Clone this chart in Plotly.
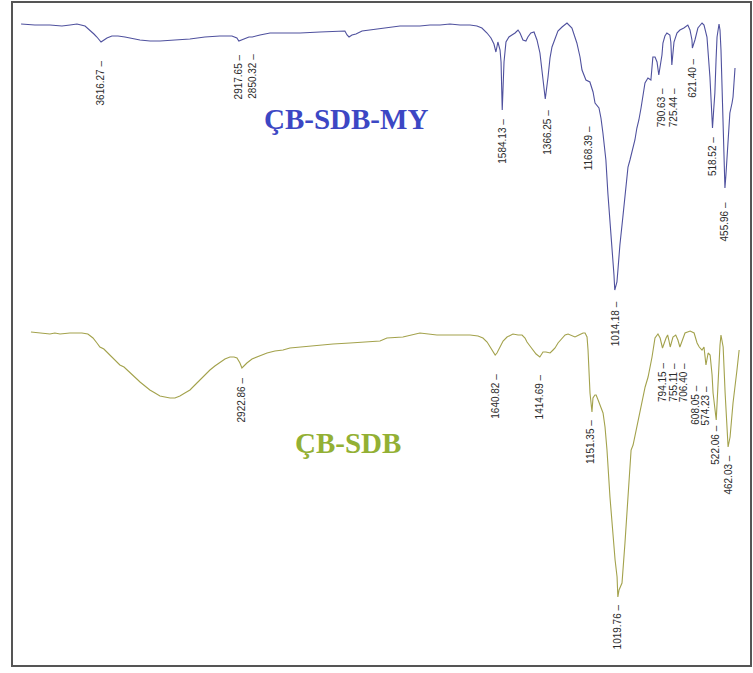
import plotly.graph_objects as go

# ---------------- data (wavenumber cm-1, transmittance in arbitrary units) ----------------
my_wn = [4021, 3951, 3875, 3814, 3773, 3738, 3697, 3672, 3652, 3637, 3616, 3601, 3586, 3561, 3530,
         3495, 3469, 3419, 3368, 3317, 3242, 3166, 3090, 3014, 2953, 2928, 2918, 2887, 2867, 2850,
         2836, 2811, 2760, 2684, 2608, 2507, 2431, 2381, 2370, 2360, 2345, 2325, 2294, 2254, 2203,
         2153, 2102, 2051, 2001, 1950, 1899, 1849, 1798, 1747, 1712, 1687, 1661, 1641, 1626, 1616,
         1606, 1595, 1590, 1584, 1575, 1565, 1550, 1535, 1519, 1504, 1494, 1479, 1464, 1454, 1439,
         1423, 1408, 1393, 1378, 1366, 1352, 1342, 1332, 1317, 1302, 1281, 1256, 1231, 1206, 1190,
         1180, 1160, 1140, 1124, 1114, 1094, 1084, 1074, 1059, 1049, 1038, 1028, 1018, 1014, 1003,
         998, 988, 973, 957, 947, 937, 927, 912, 902, 892, 881, 871, 861, 846, 831,
         821, 810, 800, 791, 775, 770, 760, 750, 735, 730, 725, 714, 699, 684, 664,
         644, 633, 623, 621, 608, 593, 572, 562, 547, 532, 524, 519, 513, 507, 501,
         496, 486, 481, 476, 466, 461, 456, 451, 446, 431, 420, 415, 405]
my_t = [642, 641, 641, 640, 641, 642, 640, 636, 632, 629, 624, 626, 628, 630, 630,
        629, 628, 626, 625, 625, 626, 627, 629, 630, 630, 628, 625, 627, 629, 629,
        630, 631, 633, 633, 633, 634, 635, 635, 631, 629, 631, 632, 635, 636, 637,
        639, 640, 640, 640, 641, 641, 642, 641, 641, 640, 638, 633, 628, 622, 614,
        624, 616, 604, 556, 604, 624, 629, 631, 633, 636, 633, 626, 625, 629, 633,
        634, 626, 613, 589, 567, 589, 608, 619, 628, 635, 639, 643, 638, 623, 609,
        596, 586, 584, 574, 563, 558, 548, 533, 506, 473, 446, 423, 391, 376, 384,
        396, 421, 449, 476, 499, 506, 513, 526, 538, 546, 558, 569, 583, 588, 586,
        609, 609, 604, 591, 611, 623, 630, 633, 631, 624, 601, 624, 633, 636, 638,
        641, 636, 626, 618, 626, 638, 643, 641, 629, 589, 556, 538, 556, 573, 606,
        629, 642, 636, 616, 556, 516, 478, 491, 509, 553, 563, 569, 598]

sdb_wn = [3991, 3946, 3895, 3870, 3844, 3794, 3733, 3703, 3677, 3657, 3642, 3622, 3606, 3591, 3576,
          3556, 3541, 3520, 3505, 3490, 3475, 3455, 3439, 3414, 3389, 3363, 3338, 3313, 3287, 3262,
          3237, 3212, 3186, 3161, 3136, 3110, 3085, 3060, 3034, 3009, 2984, 2963, 2948, 2933, 2923,
          2913, 2898, 2872, 2847, 2822, 2796, 2756, 2715, 2680, 2629, 2553, 2462, 2376, 2290, 2224,
          2189, 2108, 2022, 1936, 1855, 1768, 1728, 1703, 1682, 1667, 1652, 1641, 1632, 1617, 1601,
          1581, 1551, 1525, 1505, 1490, 1480, 1465, 1450, 1434, 1415, 1409, 1399, 1384, 1363, 1348,
          1338, 1323, 1303, 1287, 1272, 1257, 1237, 1217, 1196, 1186, 1176, 1171, 1166, 1161, 1151,
          1146, 1136, 1130, 1120, 1110, 1095, 1085, 1075, 1060, 1044, 1034, 1024, 1020, 1014, 1009,
          999, 984, 968, 958, 953, 943, 933, 918, 898, 882, 867, 857, 847, 832, 817,
          806, 794, 776, 768, 762, 755, 741, 727, 716, 706, 680, 654, 634, 619, 608,
          594, 584, 574, 563, 553, 543, 538, 522, 513, 503, 498, 487, 477, 462, 452,
          437, 417, 406]
sdb_t = [334, 333, 332, 333, 332, 333, 333, 332, 328, 323, 319, 317, 314, 311, 308,
         304, 301, 299, 296, 293, 291, 287, 284, 280, 276, 273, 270, 269, 268, 268,
         270, 273, 276, 281, 286, 291, 296, 300, 304, 307, 309, 309, 308, 303, 298,
         300, 303, 307, 309, 311, 313, 315, 316, 318, 319, 320, 322, 323, 324, 325,
         328, 329, 333, 331, 331, 331, 330, 328, 324, 319, 314, 311, 313, 319, 325,
         329, 332, 331, 331, 328, 324, 320, 316, 312, 309, 311, 314, 314, 313, 316,
         318, 323, 328, 331, 332, 331, 329, 331, 333, 333, 329, 316, 299, 273, 254,
         268, 271, 271, 266, 261, 253, 239, 216, 169, 129, 106, 89, 69, 76, 79,
         83, 123, 173, 201, 216, 221, 231, 243, 263, 279, 289, 299, 309, 328, 332,
         328, 318, 328, 331, 326, 319, 329, 331, 326, 319, 333, 335, 333, 323, 319,
         316, 319, 301, 313, 311, 291, 273, 246, 289, 321, 331, 319, 273, 219, 229,
         263, 296, 316]

my_peaks = [3616.27, 2917.65, 2850.32, 1584.13, 1366.25, 1168.39, 1014.18,
            790.63, 725.44, 621.40, 518.52, 455.96]
sdb_peaks = [2922.86, 1640.82, 1414.69, 1151.35, 1019.76, 794.15, 755.11,
             706.40, 608.05, 574.23, 522.06, 462.03]

series_names = ["ÇB-SDB-MY", "ÇB-SDB"]

# ---------------- label placement (styling) ----------------
my_label_top = [608, 614, 614, 549, 558, 542, 367, 580, 580, 609, 531, 466]
my_label_shift = [0, 0, 0, 0, 2, 4, 1, 3, 2, 0, 0, 0]
sdb_label_top = [291, 294, 294, 248, 64, 305, 305, 305, 282, 282, 242, 212]
sdb_label_shift = [0, 0, 0, -2, 0, 0, 3, 4, -4, 0, -1, 0]

MY_LINE = "#4f519e"
SDB_LINE = "#a3a24c"
MY_TEXT = "#3c47c4"
SDB_TEXT = "#93b034"

fig = go.Figure()
fig.add_trace(go.Scatter(x=my_wn, y=my_t, mode="lines", name=series_names[0],
                         line=dict(color=MY_LINE, width=1.1), xaxis="x", yaxis="y",
                         showlegend=False))
fig.add_trace(go.Scatter(x=sdb_wn, y=sdb_t, mode="lines", name=series_names[1],
                         line=dict(color=SDB_LINE, width=1.1), xaxis="x2", yaxis="y",
                         showlegend=False))

annotations = []
for wn, top, sh in zip(my_peaks, my_label_top, my_label_shift):
    annotations.append(dict(x=wn, y=top, xref="x", yref="y", text=f"{wn:.2f}\u00a0\u2013",
                            textangle=-90, showarrow=False, xanchor="center", yanchor="top",
                            xshift=sh, font=dict(family="Liberation Sans, Arial", size=10, color="#2b2b2b")))
for wn, top, sh in zip(sdb_peaks, sdb_label_top, sdb_label_shift):
    annotations.append(dict(x=wn, y=top, xref="x2", yref="y", text=f"{wn:.2f}\u00a0\u2013",
                            textangle=-90, showarrow=False, xanchor="center", yanchor="top",
                            xshift=sh, font=dict(family="Liberation Sans, Arial", size=10, color="#2b2b2b")))

annotations.append(dict(x=2375, y=547, xref="x", yref="y", text=f"<b>{series_names[0]}</b>",
                        showarrow=False, xanchor="center", yanchor="middle",
                        font=dict(family="Liberation Serif, Times New Roman", size=29, color=MY_TEXT)))
annotations.append(dict(x=2385, y=223, xref="x2", yref="y", text=f"<b>{series_names[1]}</b>",
                        showarrow=False, xanchor="center", yanchor="middle",
                        font=dict(family="Liberation Serif, Times New Roman", size=29, color=SDB_TEXT)))

hidden = dict(visible=False, showgrid=False, zeroline=False)
fig.update_layout(
    width=753, height=673,
    margin=dict(l=12, r=2, t=2, b=7),
    paper_bgcolor="white", plot_bgcolor="white",
    xaxis=dict(range=[4067, 324], **hidden),
    xaxis2=dict(range=[4087, 346], overlaying="x", **hidden),
    yaxis=dict(range=[0, 664], **hidden),
    annotations=annotations,
    shapes=[dict(type="rect", xref="paper", yref="paper", x0=0, x1=1, y0=0, y1=1,
                 line=dict(color="#555555", width=2))],
)

fig.write_html("out.html", config={"displayModeBar": False},
               post_script="document.body.style.margin='0';document.body.style.overflow='hidden';")
